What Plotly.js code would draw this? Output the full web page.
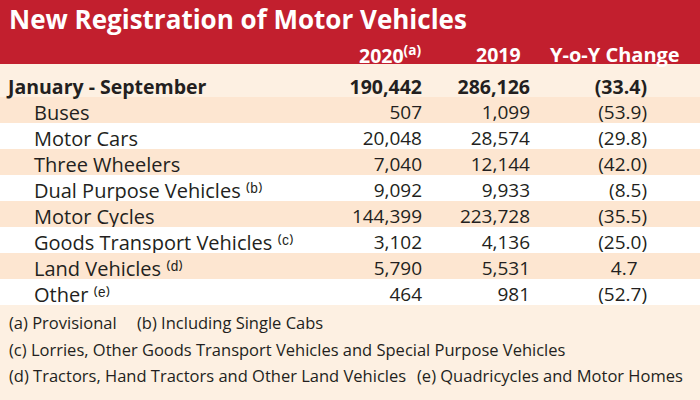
<!DOCTYPE html>
<html>
<head>
<meta charset="utf-8">
<script src="https://cdn.plot.ly/plotly-3.0.1.min.js"></script>
<style>html,body{margin:0;padding:0;background:#fdf0e1;}#chart{width:700px;height:400px;}</style>
</head>
<body>
<div id="chart"></div>
<script>
var title = "New Registration of Motor Vehicles";
var columnHeaders = ["2020<sup>(a)</sup>", "2019", "Y-o-Y Change"];
var totalLabel = "January - September";
var total2020 = 190442;
var total2019 = 286126;
var totalYoy = -33.4;
var categories = ["Buses", "Motor Cars", "Three Wheelers", "Dual Purpose Vehicles", "Motor Cycles", "Goods Transport Vehicles", "Land Vehicles", "Other"];
var notes = ["", "", "", "\u207D\u1D47\u207E", "", "\u207D\u1D9C\u207E", "\u207D\u1D48\u207E", "\u207D\u1D49\u207E"];
var v2020 = [507, 20048, 7040, 9092, 144399, 3102, 5790, 464];
var v2019 = [1099, 28574, 12144, 9933, 223728, 4136, 5531, 981];
var yoy = [-53.9, -29.8, -42.0, -8.5, -35.5, -25.0, 4.7, -52.7];
var footnotes = [
  ["(a) Provisional", "(b) Including Single Cabs"],
  ["(c) Lorries, Other Goods Transport Vehicles and Special Purpose Vehicles"],
  ["(d) Tractors, Hand Tractors and Other Land Vehicles", "(e) Quadricycles and Motor Homes"]
];

var FONT = "'Open Sans', sans-serif";
var RED = "#c21f2e";
var LIGHT = "#fdf0e2";
var PEACH = "#fde6d1";
var WHITE = "#ffffff";
var TXT = "#231f20";

function fmtN(v){ return v.toLocaleString('en-US'); }
function fmtY(v){ return v < 0 ? "(" + Math.abs(v).toFixed(1) + ")" : v.toFixed(1) + "\u2002"; }

var indent = "\u00a0\u00a0\u00a0\u00a0\u00a0";
var labels = categories.map(function(c, i){ return indent + c + (notes[i] ? " " + notes[i] : ""); });
var rowColors = categories.map(function(c, i){ return i % 2 === 0 ? PEACH : WHITE; });
var blank = categories.map(function(){ return "\u00a0"; });

var trace = {
  type: "table",
  domain: {x: [0, 1], y: [1 - 306/400, 1 - 71/400]},
  columnwidth: [330, 100, 108, 117, 45],
  header: {
    values: [totalLabel, fmtN(total2020), fmtN(total2019), fmtY(totalYoy), "\u00a0"],
    align: ["left", "right", "right", "right", "right"],
    height: 26,
    fill: {color: LIGHT},
    line: {width: 0, color: LIGHT},
    font: {family: FONT, size: 19.5, color: TXT, weight: "bold"}
  },
  cells: {
    values: [labels, v2020.map(fmtN), v2019.map(fmtN), yoy.map(fmtY), blank],
    align: ["left", "right", "right", "right", "right"],
    height: 26,
    fill: {color: [rowColors, rowColors, rowColors, rowColors, rowColors]},
    line: {width: 0, color: WHITE},
    font: {family: FONT, size: [20, 19, 19, 19, 19], color: TXT}
  }
};

var annotations = [
  {text: "<b>" + title + "</b>", x: 8/700, y: 1 - 19/400, xanchor: "left", yanchor: "middle", font: {family: FONT, size: 26, color: "#ffffff"}},
  {text: "<b>" + columnHeaders[0] + "</b>", x: 422/700, y: 1 - 54/400, xanchor: "right", yanchor: "middle", font: {family: FONT, size: 19.5, color: "#ffffff"}},
  {text: "<b>" + columnHeaders[1] + "</b>", x: 522/700, y: 1 - 55/400, xanchor: "right", yanchor: "middle", font: {family: FONT, size: 19.5, color: "#ffffff"}},
  {text: "<b>" + columnHeaders[2] + "</b>", x: 615/700, y: 1 - 55/400, xanchor: "center", yanchor: "middle", font: {family: FONT, size: 20, color: "#ffffff"}}
];
var fnY = [322, 349, 375];
var fnX = [[8, 136], [8], [8, 416]];
footnotes.forEach(function(line, li){
  line.forEach(function(t, k){
    annotations.push({text: t, x: fnX[li][k]/700, y: 1 - fnY[li]/400, xanchor: "left", yanchor: "middle", font: {family: FONT, size: 16.5, color: TXT}});
  });
});
annotations.forEach(function(a){ a.xref = "paper"; a.yref = "paper"; a.showarrow = false; a.borderpad = 0; });

var layout = {
  width: 700, height: 400,
  margin: {l: 0, r: 0, t: 0, b: 0, pad: 0},
  paper_bgcolor: LIGHT,
  plot_bgcolor: LIGHT,
  shapes: [{type: "rect", xref: "paper", yref: "paper", x0: 0, x1: 1, y0: 1 - 64/400, y1: 1, fillcolor: RED, line: {width: 0}, layer: "below"}],
  annotations: annotations
};

Plotly.newPlot("chart", [trace], layout, {displayModeBar: false, staticPlot: true});
</script>
</body>
</html>
